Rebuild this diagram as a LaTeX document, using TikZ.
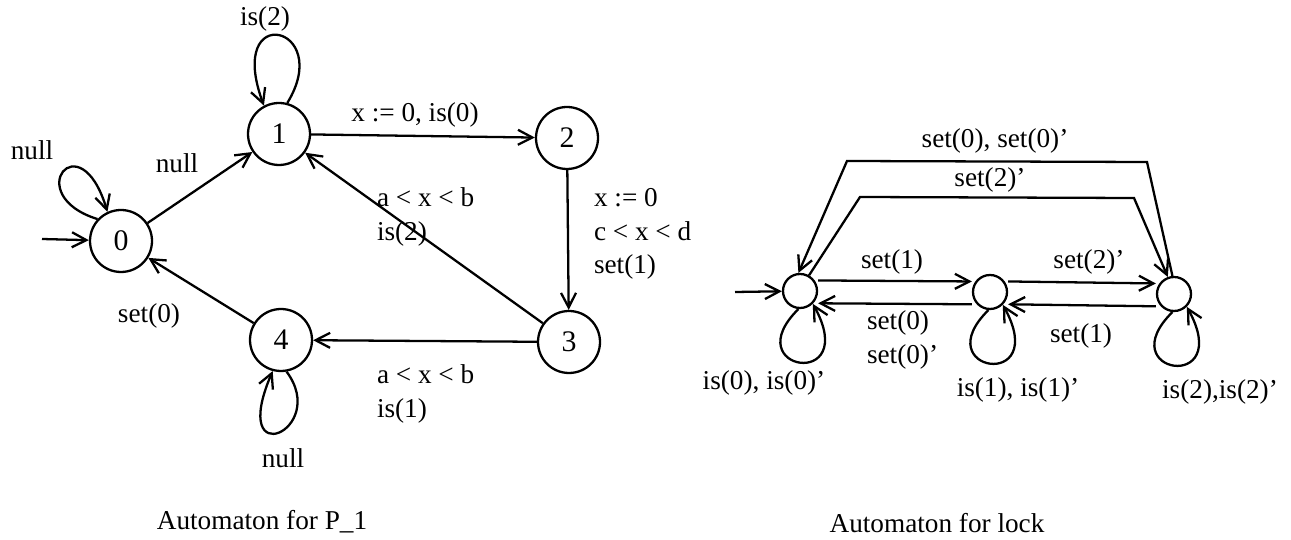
\documentclass[tikz,border=0pt]{standalone}
\usepackage{fontspec}
\setmainfont{Liberation Serif}
\usetikzlibrary{arrows.meta}
\begin{document}
\begin{tikzpicture}[x=0.02cm, y=-0.02cm, line width=1.3pt,
  every node/.style={font=\fontsize{15.5}{19}\selectfont},
  state/.style={circle, draw, minimum size=1.24cm, inner sep=0pt, font=\fontsize{17}{19}\selectfont},
  lockstate/.style={circle, draw, minimum size=0.68cm, inner sep=0pt},
  trans/.style={-{Straight Barb[length=2.9mm, width=3mm]}},
  lbl/.style={align=left, anchor=west}]
\useasboundingbox (0,0) rectangle (1291,540);
% automaton for P_1
\node[state] (n0) at (121,241) {0};
\node[state] (n1) at (279,134) {1};
\node[state] (n2) at (567,138) {2};
\node[state] (n3) at (569,342) {3};
\node[state] (n4) at (281,340) {4};
\coordinate (init0) at (42,239);
\draw[trans] (init0) -- (n0);
\draw[trans] (n0) -- (n1);
\draw[trans] (n1) -- (n2);
\draw[trans] (n2) -- (n3);
\draw[trans] (n3) -- (n1);
\draw[trans] (n3) -- (n4);
\draw[trans] (n4) -- (n0);
\draw[trans] (n0.137) .. controls (20,195) and (80,120) .. (n0.115);
\draw[trans] (n1.75) .. controls (335,25) and (225,0) .. (n1.118);
\draw[trans] (n4.-80) .. controls (330,430) and (228,475) .. (n4.-105);
\node (null00) at (32,150) {null};
\node (null01) at (177,163) {null};
\node (is11) at (265,19) {is(2)};
\node (lab12) at (415,115) {x := 0, is(0)};
\node[lbl] (lab23) at (587,234) {x := 0\\c < x < d\\set(1)};
\node[lbl] (lab31) at (370,217) {a < x < b\\is(2)};
\node[lbl] (lab34) at (370,394) {a < x < b\\is(1)};
\node (lab40) at (149,316) {set(0)};
\node (null44) at (283,458) {null};
\node (capp) at (262,522) {Automaton for P\_1};
% automaton for lock
\node[lockstate] (l0) at (800,291) {};
\node[lockstate] (l1) at (990,292) {};
\node[lockstate] (l2) at (1174,294) {};
\coordinate (initl) at (735,292);
\draw[trans] (initl) -- (l0);
\draw[trans] ([yshift=6pt]l0.east) -- ([yshift=6pt]l1.west);
\draw[trans] ([yshift=-7pt]l1.west) -- ([yshift=-7pt]l0.east);
\draw[trans] ([yshift=6pt]l1.east) -- ([yshift=6pt]l2.west);
\draw[trans] ([yshift=-7pt]l2.west) -- ([yshift=-7pt]l1.east);
\draw[trans] (l2.95) -- (1147,162) -- (847,161) -- (l0.95);
\draw[trans] (l0.60) -- (860,197) -- (1134,198) -- (l2.110);
\draw[trans] (l0.-95) .. controls +(-63,62) and +(48,87) .. (l0.-45);
\draw[trans] (l1.-95) .. controls +(-63,62) and +(48,87) .. (l1.-45);
\draw[trans] (l2.-95) .. controls +(-63,62) and +(48,87) .. (l2.-45);
\node (set01) at (892,262) {set(1)};
\node[lbl] (set10) at (860,340) {set(0)\\set(0)'};
\node (set12) at (1089,262) {set(2)'};
\node (set21) at (1081,336) {set(1)};
\node (set20) at (995,141) {set(0), set(0)'};
\node (set02) at (990,180) {set(2)'};
\node (isl0) at (764,383) {is(0), is(0)'};
\node (isl1) at (1018,390) {is(1), is(1)'};
\node (isl2) at (1220,392) {is(2),is(2)'};
\node (capl) at (937,523) {Automaton for lock};
\end{tikzpicture}
\end{document}
